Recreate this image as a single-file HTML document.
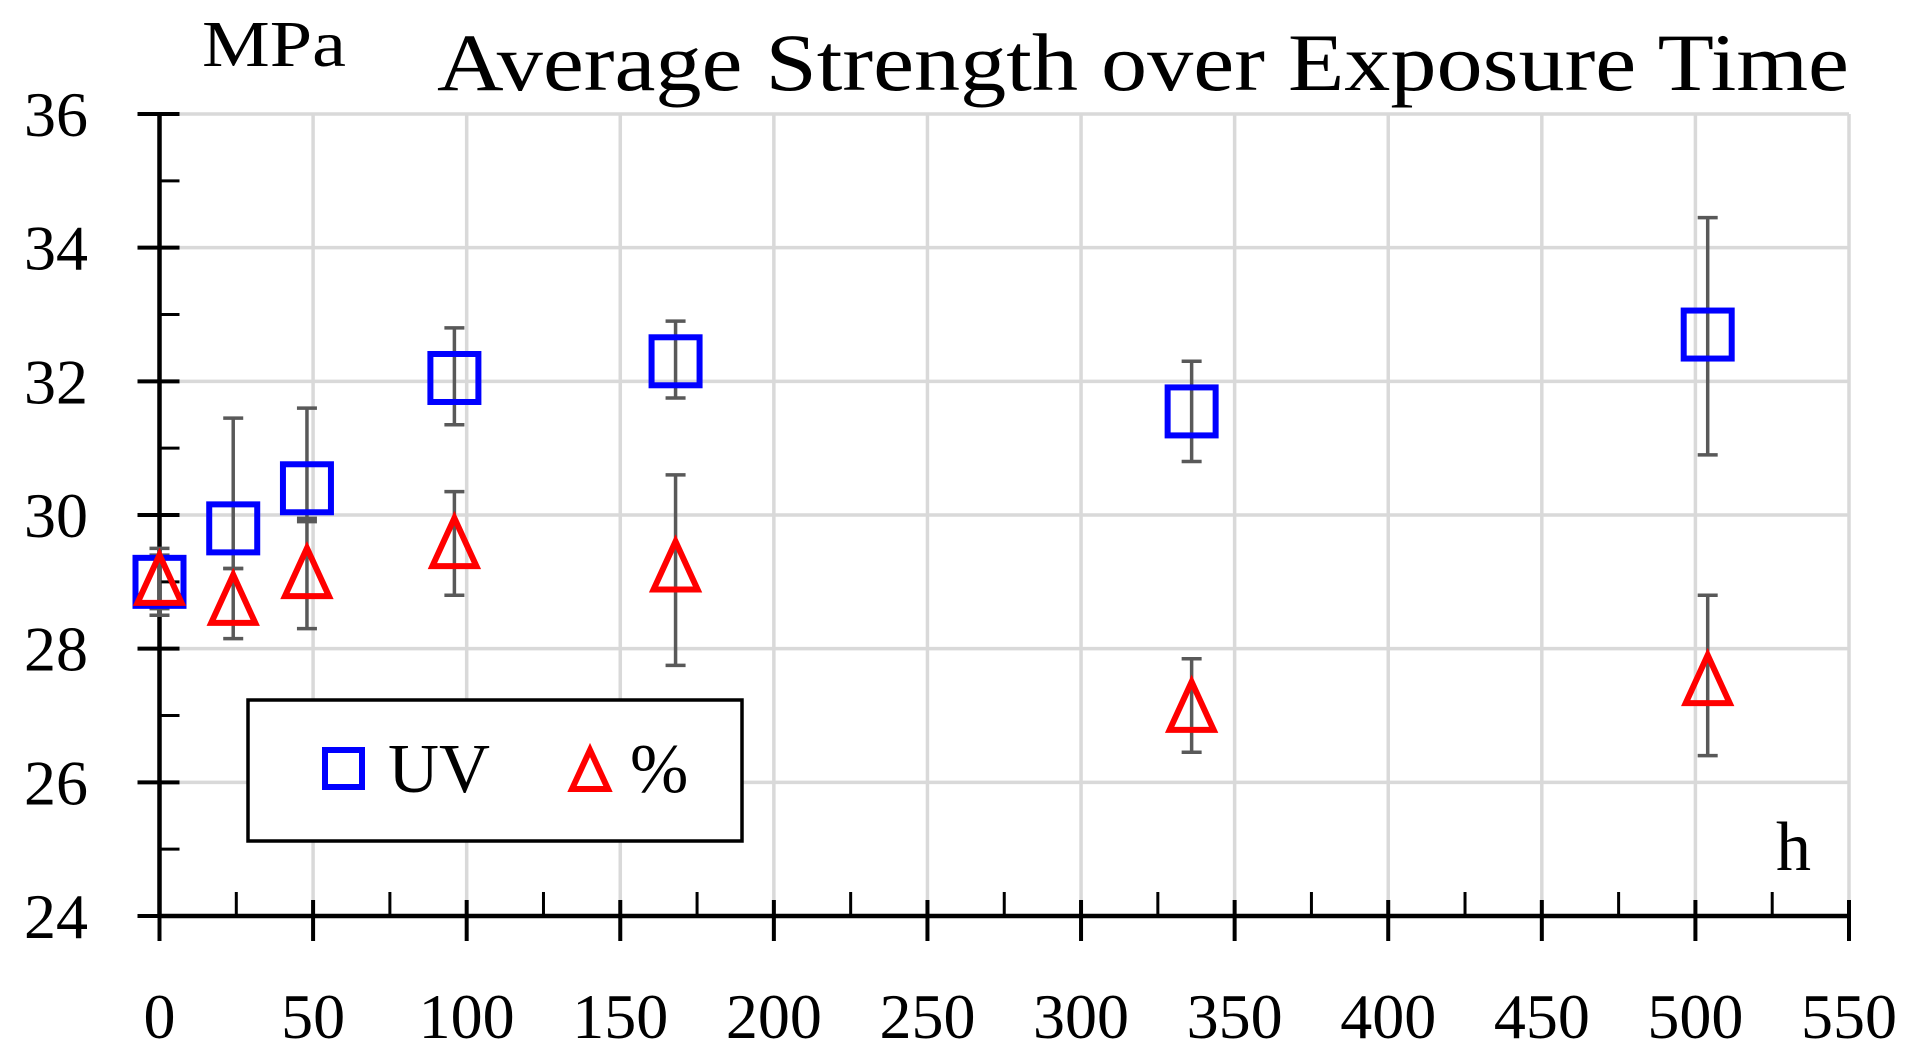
<!DOCTYPE html>
<html><head><meta charset="utf-8"><style>
html,body{margin:0;padding:0;background:#fff;}
svg{display:block;font-family:"Liberation Serif",serif;}
</style></head><body>
<svg id="chart" width="1914" height="1063" viewBox="0 0 1914 1063" xmlns="http://www.w3.org/2000/svg">
<g id="grid"></g>
<g id="axes"></g>
<g id="marks"></g>
<text x="202" y="66" font-size="66" textLength="144" lengthAdjust="spacingAndGlyphs">MPa</text>
<text x="437" y="90" font-size="82" textLength="1412" lengthAdjust="spacingAndGlyphs">Average Strength over Exposure Time</text>
<text x="1776" y="870" font-size="70">h</text>
<g>
<rect x="248" y="700" width="494" height="141" fill="#fff" stroke="#000" stroke-width="3.5"/>
<g>
<rect x="325" y="750" width="37" height="37" fill="none" stroke="#0000ff" stroke-width="6"/>
<text x="388" y="792" font-size="70" textLength="102" lengthAdjust="spacingAndGlyphs">UV</text></g>
<g>
<polygon points="590,750 608,789 572,789" fill="none" stroke="#ff0000" stroke-width="6"/>
<text x="630" y="792" font-size="70">%</text></g>
</g>
</svg>
<script>
const xTicks=[0,50,100,150,200,250,300,350,400,450,500,550];
const yTicks=[24,26,28,30,32,34,36];
const hours=[0,24,48,96,168,336,504];
const uvValues=[29.0,29.8,30.4,32.05,32.3,31.55,32.7];
const uvLow=[28.5,29.2,29.95,31.35,31.75,30.8,30.9];
const uvHigh=[29.5,31.45,31.6,32.8,32.9,32.3,34.45];
const pctValues=[29.0,28.7,29.1,29.55,29.2,27.1,27.5];
const pctLow=[28.6,28.15,28.3,28.8,27.75,26.45,26.4];
const pctHigh=[29.4,29.2,29.9,30.35,30.6,27.85,28.8];
const X0=159.5,X1=1849,Y0=916,Y1=114;
const xs=v=>X0+(v/550)*(X1-X0);
const ys=v=>Y0-((v-24)/12)*(Y0-Y1);
const NS="http://www.w3.org/2000/svg";
function mk(tag,attrs,parent){const e=document.createElementNS(NS,tag);for(const k in attrs)e.setAttribute(k,attrs[k]);parent.appendChild(e);return e;}
const grid=document.getElementById('grid'),axes=document.getElementById('axes'),marks=document.getElementById('marks');
xTicks.forEach(t=>{if(t>0){const l=mk('line',{x1:xs(t),x2:xs(t),y1:Y1,y2:Y0,stroke:'#d9d9d9','stroke-width':3.5},grid);

}
const tk=mk('line',{x1:xs(t),x2:xs(t),y1:Y0-16,y2:Y0+25,stroke:'#000','stroke-width':4},axes);


if(t<550){const m=mk('line',{x1:xs(t+25),x2:xs(t+25),y1:Y0-24,y2:Y0,stroke:'#000','stroke-width':3},axes);

}
const tx=mk('text',{x:xs(t),y:1038,'font-size':64,'text-anchor':'middle'},axes);tx.textContent=t;

});
yTicks.forEach(t=>{if(t>24){const l=mk('line',{x1:X0,x2:X1,y1:ys(t),y2:ys(t),stroke:'#d9d9d9','stroke-width':3.5},grid);

}
const tk=mk('line',{x1:X0-22,x2:X0+20,y1:ys(t),y2:ys(t),stroke:'#000','stroke-width':4},axes);


if(t<36){const m=mk('line',{x1:X0,x2:X0+20,y1:ys(t+1),y2:ys(t+1),stroke:'#000','stroke-width':3},axes);

}
const tx=mk('text',{x:88,y:ys(t)+22,'font-size':64,'text-anchor':'end'},axes);tx.textContent=t;

});
const ya=mk('line',{x1:X0,x2:X0,y1:Y1-2,y2:Y0+2,stroke:'#000','stroke-width':4.5},axes);


const xa=mk('line',{x1:X0-2,x2:X1,y1:Y0,y2:Y0,stroke:'#000','stroke-width':4.5},axes);


function err(x,lo,hi,name){const g=mk('g',{stroke:'#595959','stroke-width':3.5},marks);


mk('line',{x1:xs(x),x2:xs(x),y1:ys(lo),y2:ys(hi)},g);
mk('line',{x1:xs(x)-10,x2:xs(x)+10,y1:ys(lo),y2:ys(lo)},g);
mk('line',{x1:xs(x)-10,x2:xs(x)+10,y1:ys(hi),y2:ys(hi)},g);}
hours.forEach((h,i)=>{err(h,uvLow[i],uvHigh[i],'uv-error-bar');err(h,pctLow[i],pctHigh[i],'percent-error-bar');});
hours.forEach((h,i)=>{const cx=xs(h),cy=ys(uvValues[i]);
const r=mk('rect',{x:cx-24,y:cy-24,width:48,height:48,fill:'none',stroke:'#0000ff','stroke-width':6},marks);

});
hours.forEach((h,i)=>{const cx=xs(h),cy=ys(pctValues[i]);
const p=mk('polygon',{points:`${cx},${cy-27} ${cx+22},${cy+21} ${cx-22},${cy+21}`,fill:'none',stroke:'#ff0000','stroke-width':6},marks);

});
</script>
</body></html>
